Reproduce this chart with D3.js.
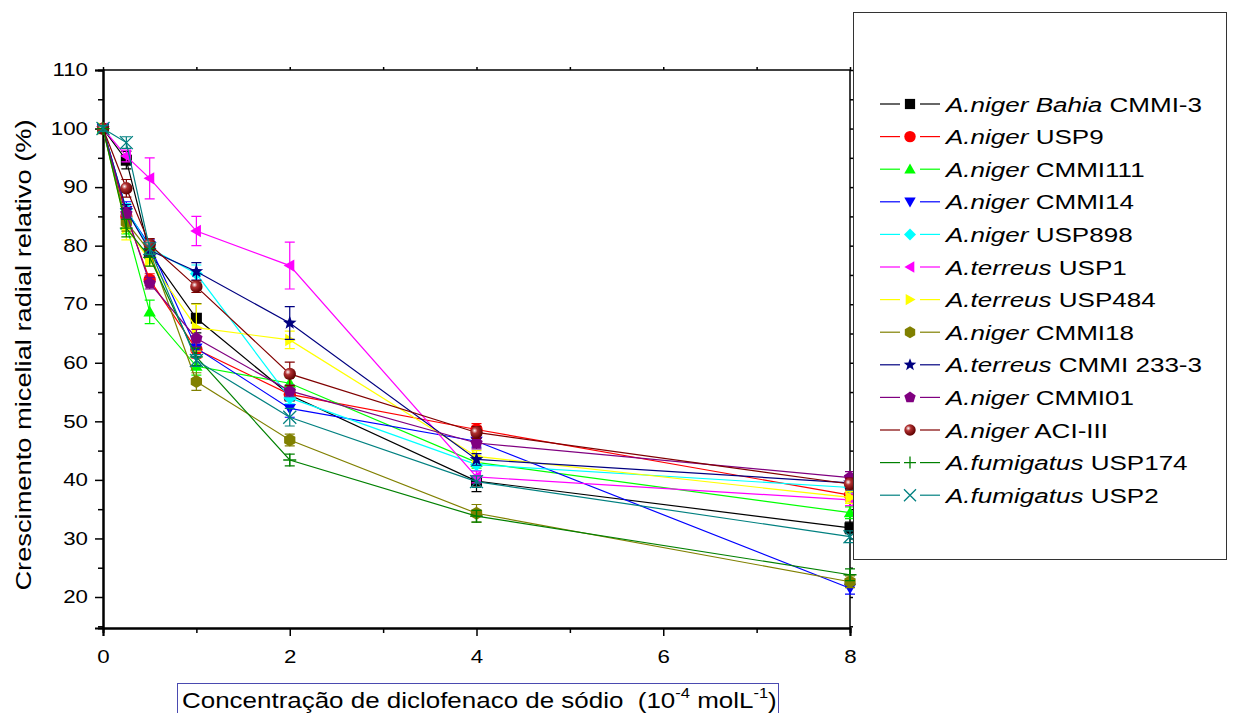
<!DOCTYPE html>
<html><head><meta charset="utf-8">
<script src="https://cdn.jsdelivr.net/npm/d3@7"></script>
<style>body{margin:0;background:#fff;font-family:"Liberation Sans",Arial,sans-serif}</style>
</head><body><svg id="c" width="1234" height="713"></svg>
<script>
const xValues = [0, 0.25, 0.5, 1, 2, 4, 8];
const seriesNames = [
  ["A.niger Bahia", "CMMI-3"], ["A.niger", "USP9"], ["A.niger", "CMMI111"], ["A.niger", "CMMI14"],
  ["A.niger", "USP898"], ["A.terreus", "USP1"], ["A.terreus", "USP484"], ["A.niger", "CMMI18"],
  ["A.terreus", "CMMI 233-3"], ["A.niger", "CMMI01"], ["A.niger", "ACI-III"], ["A.fumigatus", "USP174"],
  ["A.fumigatus", "USP2"]
];
const seriesColors = ["#000000","#ff0000","#00ff00","#0000ff","#00ffff","#ff00ff","#ffff00","#808000","#000080","#800080","#800000","#008000","#008080"];
const seriesMarkers = ["square","circle","triUp","triDown","diamond","triLeft","triRight","hexagon","star","pentagon","ball","plus","cross"];
const s1 = [100, 94.6, 78.8, 67.6, 54.5, 39.8, 31.8];
const s2 = [100, 85.0, 74.2, 62.3, 54.6, 48.6, 37.4];
const s3 = [100, 83.5, 68.7, 59.4, 56.5, 43.0, 34.4];
const s4 = [100, 86.0, 80.0, 62.5, 52.2, 46.6, 21.5];
const s5 = [100, 86.2, 79.6, 75.2, 54.0, 42.6, 38.7];
const s6 = [100, 95.3, 91.5, 82.5, 76.6, 40.5, 36.6];
const s7 = [100, 83.0, 77.5, 66.0, 63.9, 44.0, 37.0];
const s8 = [100, 84.0, 79.0, 56.8, 46.8, 34.3, 22.6];
const s9 = [100, 86.0, 79.2, 75.6, 66.8, 43.5, 39.5];
const s10 = [100, 85.5, 73.6, 64.2, 55.2, 46.3, 40.4];
const s11 = [100, 89.8, 80.2, 73.0, 58.1, 48.1, 39.3];
const s12 = [100, 83.0, 78.0, 61.0, 43.4, 33.8, 23.8];
const s13 = [100, 97.6, 79.5, 60.4, 50.7, 39.7, 30.3];
const e1 = [0.5, 1.5, 1, 2.5, 1, 1.8, 1];
const e2 = [0.5, 1.5, 1, 1.5, 1, 1, 1];
const e3 = [0.5, 1.5, 2, 1.5, 1, 1, 1];
const e4 = [0.5, 1.5, 1, 1.5, 1.5, 1, 1];
const e5 = [0.5, 1, 1, 1.5, 1, 1, 1];
const e6 = [0.5, 1, 3.5, 2.5, 4, 1, 1];
const e7 = [0.5, 2, 1, 4, 1.5, 1, 1];
const e8 = [0.5, 1.5, 1, 1.5, 1, 1.5, 1];
const e9 = [0.5, 1, 1, 1.5, 2.8, 1, 1];
const e10 = [0.5, 1, 1, 1.5, 1, 1, 1];
const e11 = [0.5, 1.5, 1, 1, 2, 1, 1];
const e12 = [0.5, 1.5, 1.5, 1.5, 1, 1, 1];
const e13 = [0.5, 1, 1, 1, 1.5, 1, 1];
const seriesValues = [s1,s2,s3,s4,s5,s6,s7,s8,s9,s10,s11,s12,s13];
const seriesErrors = [e1,e2,e3,e4,e5,e6,e7,e8,e9,e10,e11,e12,e13];
const xTicks = [0, 2, 4, 6, 8];
const yTicks = [20, 30, 40, 50, 60, 70, 80, 90, 100, 110];

const FONT = "Liberation Sans, Arial, sans-serif";
const SX = 1.24;
const svg = d3.select("#c");
const x = d3.scaleLinear().domain([0, 8]).range([103, 850]);
const y = d3.scaleLinear().domain([110, 20]).range([70, 597]);
const yBottom = 628, yMin = y.invert(yBottom);

const defs = svg.append("defs");
const rg = defs.append("radialGradient").attr("id","ball").attr("cx","35%").attr("cy","35%").attr("r","65%");
rg.append("stop").attr("offset","0%").attr("stop-color","#ffffff");
rg.append("stop").attr("offset","35%").attr("stop-color","#b03030");
rg.append("stop").attr("offset","100%").attr("stop-color","#600000");

function poly(n, r, rot) {
  const p = [];
  for (let i = 0; i < n; i++) { const a = rot + i * 2 * Math.PI / n; p.push([r*Math.cos(a), r*Math.sin(a)]); }
  return "M" + p.map(d => d.join(",")).join("L") + "Z";
}
function starPath(r) {
  const p = [];
  for (let i = 0; i < 10; i++) { const rr = i % 2 ? r*0.42 : r; const a = -Math.PI/2 + i*Math.PI/5; p.push([rr*Math.cos(a), rr*Math.sin(a)]); }
  return "M" + p.map(d => d.join(",")).join("L") + "Z";
}
function drawMarker(g, type, color, s) {
  const h = s / 2;
  if (type === "square") g.append("rect").attr("x",-h*0.85).attr("y",-h*0.85).attr("width",s*0.85).attr("height",s*0.85).attr("fill",color);
  else if (type === "circle") g.append("circle").attr("r",h*0.95).attr("fill",color);
  else if (type === "ball") g.append("circle").attr("r",h*0.95).attr("fill","url(#ball)");
  else if (type === "triUp") g.append("path").attr("d",poly(3,h*1.1,-Math.PI/2)).attr("transform","translate(0,1)").attr("fill",color);
  else if (type === "triDown") g.append("path").attr("d",poly(3,h*1.1,Math.PI/2)).attr("transform","translate(0,-1)").attr("fill",color);
  else if (type === "triLeft") g.append("path").attr("d",poly(3,h*1.1,Math.PI)).attr("transform","translate(1,0)").attr("fill",color);
  else if (type === "triRight") g.append("path").attr("d",poly(3,h*1.1,0)).attr("transform","translate(-1,0)").attr("fill",color);
  else if (type === "diamond") g.append("path").attr("d",poly(4,h,0)).attr("fill",color);
  else if (type === "hexagon") g.append("path").attr("d",poly(6,h,-Math.PI/2)).attr("fill",color);
  else if (type === "pentagon") g.append("path").attr("d",poly(5,h,-Math.PI/2)).attr("fill",color);
  else if (type === "star") g.append("path").attr("d",starPath(h*1.1)).attr("fill",color);
  else if (type === "plus") g.append("path").attr("d",`M${-h},0H${h}M0,${-h}V${h}`).attr("stroke",color).attr("stroke-width",1.3).attr("fill","none");
  else if (type === "cross") g.append("path").attr("d",`M${-h},${-h}L${h},${h}M${-h},${h}L${h},${-h}`).attr("stroke",color).attr("stroke-width",1.3).attr("fill","none");
}

// frame
const fr = svg.append("g").attr("stroke","#000").attr("fill","none");
fr.append("line").attr("x1",x(0)).attr("x2",x(8)).attr("y1",70).attr("y2",70).attr("stroke-width",1.5);
fr.append("line").attr("x1",x(8)).attr("x2",x(8)).attr("y1",70).attr("y2",yBottom).attr("stroke-width",1.5);

// axes
const ysc = d3.scaleLinear().domain([yMin,110]).range([yBottom,70]);
const xsc = d3.scaleLinear().domain([0,8]).range([103,850]);
const yAxis = svg.append("g").attr("transform",`translate(${x(0)},0)`);
yAxis.call(d3.axisLeft(ysc).tickValues(yTicks).tickSize(8).tickPadding(4).tickFormat(d3.format("d")));
yAxis.append("g").call(d3.axisLeft(ysc).tickValues([15,25,35,45,55,65,75,85,95,105]).tickSize(5).tickFormat(""));
const xAxis = svg.append("g").attr("transform",`translate(0,${yBottom})`);
xAxis.call(d3.axisBottom(xsc).tickValues(xTicks).tickSize(8).tickPadding(14).tickFormat(d3.format("d")));
xAxis.append("g").call(d3.axisBottom(xsc).tickValues([1,3,5,7]).tickSize(5).tickFormat(""));
const rAxis = svg.append("g").attr("transform",`translate(${x(8)},0)`);
rAxis.call(d3.axisRight(ysc).tickValues(d3.range(15,111,5)).tickSize(3).tickFormat(""));
const tAxis = svg.append("g").attr("transform",`translate(0,70)`);
tAxis.call(d3.axisTop(xsc).tickValues(d3.range(0,9,1)).tickSize(3).tickFormat(""));
svg.selectAll(".domain").attr("stroke","#000").attr("stroke-width",2);
svg.selectAll(".tick line").attr("stroke","#000").attr("stroke-width",1.5);
svg.selectAll(".tick text").attr("font-family",FONT).attr("font-size",18).attr("fill","#000");
yAxis.selectAll(".tick text").attr("x", -15 / SX).attr("transform", `scale(${SX},1)`);
xAxis.selectAll(".tick text").attr("transform", `scale(${SX},1)`);
rAxis.selectAll(".domain").remove(); tAxis.selectAll(".domain").remove();

// series
const plot = svg.append("g");
seriesValues.forEach((vals, i) => {
  const col = seriesColors[i];
  const g = plot.append("g");
  g.append("path").attr("d", d3.line().x((d,j)=>x(xValues[j])).y(d=>y(d))(vals))
    .attr("fill","none").attr("stroke",col).attr("stroke-width",1.2);
  vals.forEach((v,j) => {
    const e = seriesErrors[i][j], cx = x(xValues[j]);
    g.append("path").attr("d",`M${cx},${y(v-e)}V${y(v+e)}M${cx-5},${y(v-e)}H${cx+5}M${cx-5},${y(v+e)}H${cx+5}`)
      .attr("stroke",col).attr("stroke-width",1.2).attr("fill","none");
  });
  vals.forEach((v,j) => {
    const m = g.append("g").attr("transform",`translate(${x(xValues[j])},${y(v)})`);
    drawMarker(m, seriesMarkers[i], col, 13);
  });
});

// legend
const lg = svg.append("g");
lg.append("rect").attr("x",853.5).attr("y",12.5).attr("width",373).attr("height",547).attr("fill","#fff").attr("stroke","#333").attr("stroke-width",1);
seriesNames.forEach((nm, i) => {
  const ly = 104 + i * 32.6, col = seriesColors[i];
  const r = lg.append("g");
  r.append("line").attr("x1",880).attr("x2",900).attr("y1",ly).attr("y2",ly).attr("stroke",col).attr("stroke-width",1.2);
  r.append("line").attr("x1",920).attr("x2",940).attr("y1",ly).attr("y2",ly).attr("stroke",col).attr("stroke-width",1.2);
  drawMarker(r.append("g").attr("transform",`translate(910,${ly})`), seriesMarkers[i], col, 12);
  const t = r.append("text").attr("transform",`translate(946,${ly+7.5}) scale(${SX},1)`).attr("font-size",21).attr("fill","#000")
    .attr("font-family",FONT);
  t.append("tspan").attr("font-style","italic").text(nm[0]);
  t.append("tspan").text(" " + nm[1]);
});

// axis titles
svg.append("text").attr("transform",`translate(31,355) rotate(-90) scale(${SX},1)`).attr("text-anchor","middle")
  .attr("font-size",22).attr("font-family",FONT).text("Crescimento micelial radial relativo (%)");
svg.append("rect").attr("x",177.5).attr("y",683.5).attr("width",601).attr("height",40).attr("fill","none").attr("stroke","#4a4ab0").attr("stroke-width",1);
const xt = svg.append("text").attr("transform",`translate(182,708) scale(1.18,1)`).attr("font-size",22).attr("font-family",FONT).attr("xml:space","preserve");
xt.append("tspan").text("Concentração de diclofenaco de sódio  (10");
xt.append("tspan").attr("font-size",14).attr("dy",-10).text("-4");
xt.append("tspan").attr("dy",10).text(" molL");
xt.append("tspan").attr("font-size",14).attr("dy",-10).text("-1");
xt.append("tspan").attr("dy",10).text(")");
</script></body></html>
